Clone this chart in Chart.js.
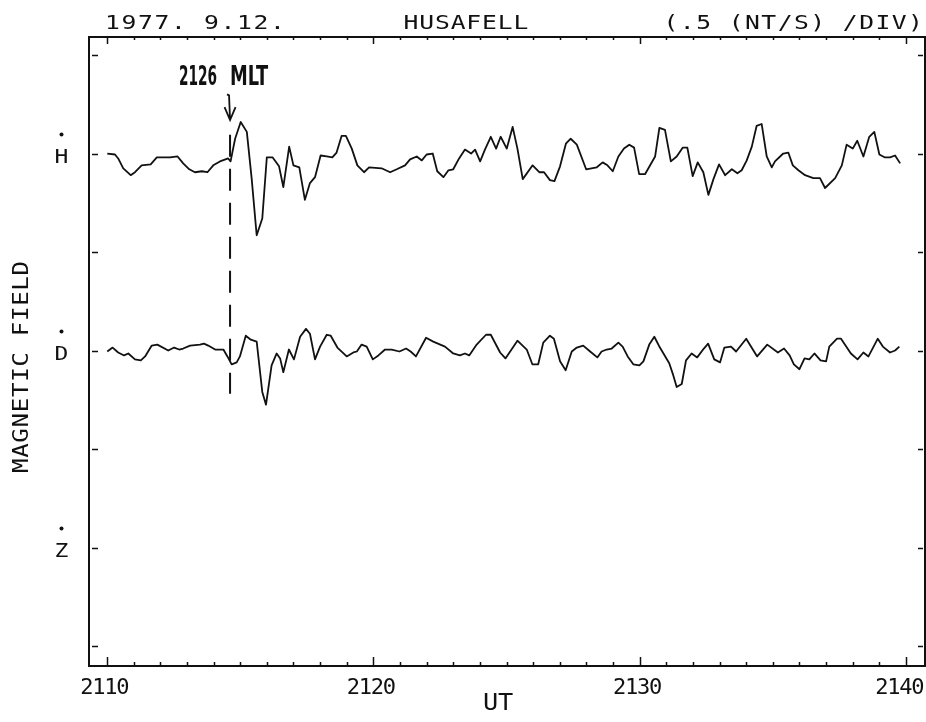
<!DOCTYPE html>
<html><head><meta charset="utf-8">
<script src="https://cdn.jsdelivr.net/npm/chart.js@4/dist/chart.umd.min.js"></script>
<style>html,body{margin:0;padding:0;background:#fff;}canvas{display:block;}</style>
</head><body>
<canvas id="c" width="926" height="722"></canvas>
<script>
// ---- data (UT minutes, values in divisions of 0.5 nT/s) ----
const hTime = [2110.01,2110.30,2110.42,2110.61,2110.89,2111.05,2111.30,2111.64,2111.87,2112.37,
2112.65,2112.86,2113.09,2113.30,2113.56,2113.77,2113.99,2114.24,2114.55,2114.64,
2114.81,2115.02,2115.25,2115.43,2115.62,2115.83,2116.00,2116.22,2116.46,2116.62,
2116.84,2117.00,2117.22,2117.43,2117.62,2117.81,2118.02,2118.25,2118.46,2118.62,
2118.81,2118.97,2119.19,2119.40,2119.65,2119.84,2120.31,2120.63,2120.88,2121.19,
2121.38,2121.63,2121.82,2122.00,2122.23,2122.40,2122.63,2122.82,2123.00,2123.22,
2123.44,2123.67,2123.82,2124.01,2124.19,2124.41,2124.61,2124.78,2125.01,2125.23,
2125.41,2125.61,2125.98,2126.23,2126.41,2126.63,2126.80,2127.01,2127.23,2127.41,
2127.64,2127.99,2128.39,2128.61,2128.79,2128.99,2129.20,2129.41,2129.61,2129.79,
2129.98,2130.20,2130.58,2130.74,2130.95,2131.17,2131.39,2131.62,2131.79,2131.99,
2132.18,2132.39,2132.58,2132.77,2132.98,2133.21,2133.46,2133.67,2133.83,2134.02,
2134.21,2134.39,2134.58,2134.77,2134.96,2135.08,2135.39,2135.58,2135.75,2135.96,
2136.21,2136.52,2136.77,2136.96,2137.34,2137.59,2137.77,2138.00,2138.17,2138.40,
2138.62,2138.81,2139.00,2139.21,2139.40,2139.59,2139.78];
const hVal = [0.00,-0.01,-0.05,-0.15,-0.22,-0.19,-0.12,-0.11,-0.04,-0.04,
-0.03,-0.10,-0.16,-0.19,-0.18,-0.19,-0.12,-0.08,-0.05,-0.08,
0.15,0.32,0.22,-0.25,-0.83,-0.66,-0.04,-0.04,-0.13,-0.34,
0.07,-0.12,-0.14,-0.47,-0.30,-0.24,-0.02,-0.03,-0.04,0.01,
0.18,0.18,0.05,-0.12,-0.19,-0.14,-0.15,-0.19,-0.16,-0.12,
-0.06,-0.03,-0.07,-0.01,0.00,-0.18,-0.24,-0.17,-0.16,-0.05,
0.04,0.00,0.04,-0.08,0.04,0.17,0.05,0.17,0.05,0.27,
0.05,-0.26,-0.12,-0.19,-0.19,-0.27,-0.28,-0.13,0.10,0.15,
0.09,-0.16,-0.14,-0.09,-0.12,-0.18,-0.03,0.05,0.09,0.06,
-0.21,-0.21,-0.03,0.26,0.24,-0.08,-0.03,0.06,0.06,-0.23,
-0.09,-0.19,-0.42,-0.26,-0.11,-0.22,-0.16,-0.20,-0.17,-0.07,
0.07,0.28,0.30,-0.03,-0.14,-0.08,0.00,0.01,-0.12,-0.17,
-0.22,-0.25,-0.25,-0.35,-0.25,-0.12,0.09,0.05,0.13,-0.03,
0.17,0.22,-0.01,-0.04,-0.04,-0.02,-0.10];
const dTime = [2110.01,2110.21,2110.42,2110.64,2110.80,2111.05,2111.27,2111.43,2111.68,2111.89,
2112.30,2112.52,2112.71,2112.86,2113.12,2113.49,2113.64,2113.80,2114.06,2114.37,
2114.52,2114.68,2114.87,2114.99,2115.21,2115.40,2115.62,2115.83,2115.97,2116.18,
2116.37,2116.50,2116.62,2116.83,2117.02,2117.25,2117.47,2117.62,2117.81,2118.00,
2118.25,2118.40,2118.65,2119.00,2119.25,2119.38,2119.56,2119.75,2119.98,2120.19,
2120.44,2120.69,2120.98,2121.23,2121.40,2121.60,2121.98,2122.25,2122.69,2123.00,
2123.25,2123.44,2123.60,2123.88,2124.23,2124.41,2124.76,2124.96,2125.41,2125.76,
2125.97,2126.19,2126.38,2126.63,2126.78,2127.01,2127.22,2127.45,2127.64,2127.88,
2128.14,2128.41,2128.57,2128.76,2128.95,2129.20,2129.36,2129.55,2129.76,2129.99,
2130.14,2130.36,2130.55,2130.76,2131.11,2131.26,2131.39,2131.58,2131.74,2131.95,
2132.16,2132.41,2132.57,2132.80,2133.02,2133.18,2133.43,2133.62,2134.00,2134.41,
2134.79,2135.19,2135.42,2135.63,2135.79,2136.00,2136.19,2136.37,2136.56,2136.79,
2137.00,2137.12,2137.41,2137.56,2137.93,2138.18,2138.40,2138.59,2138.94,2139.13,
2139.40,2139.59,2139.75];
const dVal = [-0.01,0.03,-0.02,-0.05,-0.03,-0.09,-0.10,-0.06,0.05,0.06,
0.00,0.03,0.01,0.02,0.05,0.06,0.07,0.05,0.01,0.01,
-0.06,-0.14,-0.12,-0.06,0.15,0.11,0.09,-0.42,-0.55,-0.15,
-0.03,-0.08,-0.22,0.01,-0.09,0.14,0.22,0.17,-0.09,0.04,
0.16,0.15,0.03,-0.06,-0.02,-0.01,0.06,0.04,-0.09,-0.05,
0.01,0.01,-0.01,0.02,-0.01,-0.06,0.13,0.09,0.04,-0.03,
-0.05,-0.03,-0.05,0.06,0.16,0.16,-0.02,-0.08,0.10,0.01,
-0.14,-0.14,0.08,0.15,0.12,-0.11,-0.20,-0.01,0.03,0.05,
-0.01,-0.07,-0.01,0.01,0.02,0.08,0.04,-0.06,-0.14,-0.15,
-0.11,0.06,0.14,0.03,-0.13,-0.25,-0.37,-0.34,-0.10,-0.03,
-0.07,0.02,0.07,-0.09,-0.12,0.03,0.04,-0.01,0.12,-0.06,
0.06,-0.02,0.02,-0.05,-0.14,-0.19,-0.08,-0.09,-0.03,-0.10,
-0.11,0.04,0.12,0.12,-0.03,-0.09,-0.02,-0.06,0.12,0.04,
-0.02,0.00,0.04];

const channelLabels = ['H','D','Z'];
const channelOffsets = [2, 0, -2];
const xTickValues = [2110, 2120, 2130, 2140];
const xTickLabels = ['2110', '2120', '2130', '2140'];
const yDivisions = [3, 2, 1, 0, -1, -2, -3];
const titleLeft = '1977. 9.12.';
const titleCenter = 'HUSAFELL';
const titleRight = '(.5 (NT/S) /DIV)';
const xTitle = 'UT';
const yTitle = 'MAGNETIC FIELD';
const markerLabel = '2126 MLT';
const markerTime = 2114.62;
const markerTop = 2.19, markerBottom = -0.44;
const arrowTop = 2.60, arrowBottom = 2.34;

const MONO = '"DejaVu Sans Mono", "Liberation Mono", monospace';

function spaced(ctx, text, cx0, baseY, pitch, sx) {
  sx = sx || 1;
  ctx.textAlign = 'center';
  ctx.textBaseline = 'alphabetic';
  for (let i = 0; i < text.length; i++) {
    ctx.save();
    ctx.translate(cx0 + i * pitch, baseY);
    ctx.scale(sx, 1);
    ctx.fillText(text[i], 0, 0);
    ctx.restore();
  }
}

const deco = {
  id: 'deco',
  afterDatasetsDraw(chart) {
    const ctx = chart.ctx, a = chart.chartArea;
    const xs = chart.scales.x, ys = chart.scales.y;
    ctx.save();
    ctx.strokeStyle = '#111';
    ctx.fillStyle = '#111';
    // frame
    ctx.lineWidth = 2;
    ctx.strokeRect(a.left, a.top, a.right - a.left, a.bottom - a.top);
    // x ticks (minor every minute, major every 10)
    ctx.lineWidth = 1.5;
    for (let m = xTickValues[0]; m <= xTickValues[xTickValues.length - 1]; m++) {
      const px = Math.round(xs.getPixelForValue(m)) + 0.5;
      const major = xTickValues.includes(m);
      ctx.beginPath();
      ctx.moveTo(px, a.top); ctx.lineTo(px, a.top + (major ? 7 : 3));
      ctx.moveTo(px, a.bottom); ctx.lineTo(px, a.bottom - (major ? 9 : 4));
      ctx.stroke();
    }
    // y ticks
    yDivisions.forEach(v => {
      const py = Math.round(ys.getPixelForValue(v)) + 0.5;
      ctx.beginPath();
      ctx.moveTo(a.left + 3, py); ctx.lineTo(a.left + 9, py);
      ctx.moveTo(a.right - 7, py); ctx.lineTo(a.right - 2, py);
      ctx.stroke();
    });
    // x tick labels
    ctx.font = '21px ' + MONO;
    xTickValues.forEach((v, i) => {
      const lab = xTickLabels[i];
      const half = (lab.length - 1) * 12 / 2 + 6;
      let c = xs.getPixelForValue(v) - 2;
      if (c + half > a.right - 1) c = a.right - 1 - half;
      spaced(ctx, lab, c - (lab.length - 1) * 12 / 2, 694, 12, 1.05);
    });
    // axis titles
    ctx.font = '23px ' + MONO;
    spaced(ctx, xTitle, 490.5, 710, 15, 1.1);
    ctx.save();
    ctx.translate(28, 367);
    ctx.rotate(-Math.PI / 2);
    ctx.font = '21px ' + MONO;
    spaced(ctx, yTitle, -(yTitle.length - 1) * 15.2 / 2, 0, 15.2, 1.15);
    ctx.restore();
    // channel labels with dot
    ctx.font = '20px ' + MONO;
    channelLabels.forEach((lab, i) => {
      const py = ys.getPixelForValue(channelOffsets[i]);
      spaced(ctx, lab, 61.5, py + 9.5, 0, 1.15);
      ctx.beginPath();
      ctx.arc(61.5, py - 19, 2, 0, Math.PI * 2);
      ctx.fill();
    });
    // top titles
    ctx.font = '19px ' + MONO;
    spaced(ctx, titleLeft, 112.5, 29, 16.5, 1.3);
    spaced(ctx, titleCenter, 411, 29, 15.7, 1.3);
    spaced(ctx, titleRight, 671, 29, 16.3, 1.3);
    // marker dashed line
    const mx = xs.getPixelForValue(markerTime);
    ctx.lineWidth = 2;
    ctx.setLineDash([22, 12]);
    ctx.beginPath();
    ctx.moveTo(mx, ys.getPixelForValue(markerTop));
    ctx.lineTo(mx, ys.getPixelForValue(markerBottom));
    ctx.stroke();
    ctx.setLineDash([]);
    // arrow
    const at = ys.getPixelForValue(arrowTop), ab = ys.getPixelForValue(arrowBottom);
    ctx.lineWidth = 1.8;
    ctx.beginPath();
    ctx.moveTo(mx - 3, at); ctx.lineTo(mx - 1, at + 1); ctx.lineTo(mx, ab);
    ctx.moveTo(mx - 5.5, ab - 13); ctx.lineTo(mx, ab); ctx.lineTo(mx + 5.5, ab - 13);
    ctx.stroke();
    // marker label (bold condensed)
    ctx.font = 'bold 27px "DejaVu Sans Condensed", "Liberation Sans Narrow", "DejaVu Sans", sans-serif';
    const parts = markerLabel.split(' ');
    const w0 = ctx.measureText(parts[0]).width, w1 = ctx.measureText(parts[1]).width;
    ctx.textAlign = 'left';
    ctx.textBaseline = 'alphabetic';
    ctx.save();
    ctx.translate(mx - 51, at - 9);
    ctx.scale(38 / w0, 1);
    ctx.fillText(parts[0], 0, 0);
    ctx.restore();
    ctx.save();
    ctx.translate(mx, at - 9);
    ctx.scale(38 / w1, 1);
    ctx.fillText(parts[1], 0, 0);
    ctx.restore();
    ctx.restore();
  }
};

new Chart(document.getElementById('c').getContext('2d'), {
  type: 'line',
  data: {
    datasets: [
      { label: 'H', data: hTime.map((t, i) => ({ x: t, y: channelOffsets[0] + hVal[i] })),
        borderColor: '#111', borderWidth: 1.8, pointRadius: 0, tension: 0, fill: false, borderJoinStyle: 'round' },
      { label: 'D', data: dTime.map((t, i) => ({ x: t, y: channelOffsets[1] + dVal[i] })),
        borderColor: '#111', borderWidth: 1.8, pointRadius: 0, tension: 0, fill: false, borderJoinStyle: 'round' }
    ]
  },
  options: {
    responsive: false,
    animation: false,
    events: [],
    layout: { padding: { left: 89, top: 37, right: 1, bottom: 56 } },
    plugins: { legend: { display: false }, tooltip: { enabled: false } },
    scales: {
      x: { type: 'linear', min: 2109.324, max: 2140.713, display: false },
      y: { type: 'linear', min: -3.203, max: 3.183, display: false }
    }
  },
  plugins: [deco]
});
</script>
</body></html>
